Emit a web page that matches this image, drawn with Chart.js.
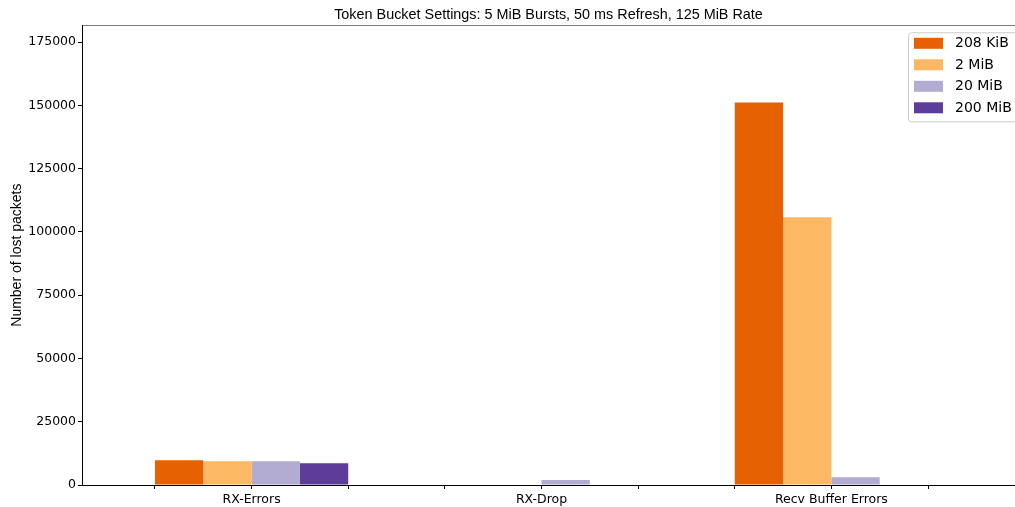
<!DOCTYPE html>
<html>
<head>
<meta charset="utf-8">
<script src="https://cdn.jsdelivr.net/npm/chart.js@4/dist/chart.umd.min.js"></script>
<style>
  html, body { margin: 0; padding: 0; background: #fff; }
  #wrap { width: 1015px; height: 507px; }
</style>
</head>
<body>
<div id="wrap"><canvas id="lossChart"></canvas></div>
<script>
// Data
var categories = ['RX-Errors', 'RX-Drop', 'Recv Buffer Errors'];
var groupX = [1, 4, 7];                 // centre of each group on the x axis
var seriesNames = ['208 KiB', '2 MiB', '20 MiB', '200 MiB'];
var seriesColors = ['#e66101', '#fdb863', '#b2abd2', '#5e3c99'];
var lost208KiB = [9750, 0, 151200];
var lost2MiB = [9350, 0, 105800];
var lost20MiB = [9350, 2000, 3050];
var lost200MiB = [8600, 0, 0];
var yTicks = [0, 25000, 50000, 75000, 100000, 125000, 150000, 175000];

var seriesValues = [lost208KiB, lost2MiB, lost20MiB, lost200MiB];

var datasets = seriesNames.map(function (name, i) {
    return {
        label: name,
        data: groupX.map(function (x, j) { return { x: x, y: seriesValues[i][j] }; }),
        backgroundColor: seriesColors[i],
        borderWidth: 0,
        barPercentage: 1,
        categoryPercentage: 2
    };
});

// matplotlib-like legend box, top right inside the plot
var boxLegend = {
    id: 'boxLegend',
    afterDatasetsDraw: function (chart) {
        var ctx = chart.ctx;
        var area = chart.chartArea;
        var x0 = area.right - 107, y0 = area.top + 7;
        var rowH = 21.5;
        ctx.save();
        ctx.beginPath();
        ctx.roundRect(x0 + 0.5, y0 + 0.5, 120, 89, 3);
        ctx.fillStyle = 'rgba(255,255,255,0.8)';
        ctx.fill();
        ctx.strokeStyle = '#cccccc';
        ctx.lineWidth = 1;
        ctx.stroke();
        ctx.font = '14px "DejaVu Sans"';
        ctx.textBaseline = 'middle';
        chart.data.datasets.forEach(function (ds, i) {
            var cy = y0 + 11 + i * rowH;
            ctx.fillStyle = ds.backgroundColor;
            ctx.fillRect(x0 + 6, cy - 5.5, 29, 11);
            ctx.fillStyle = '#000';
            ctx.fillText(ds.label, x0 + 47, cy + 0.5);
        });
        ctx.restore();
    }
};

Chart.defaults.color = '#000';

var ctx = document.getElementById('lossChart');
new Chart(ctx, {
    type: 'bar',
    data: { datasets: datasets },
    plugins: [boxLegend],
    options: {
        responsive: true,
        maintainAspectRatio: false,
        animation: false,
        layout: { padding: 0 },
        plugins: {
            legend: { display: false },
            tooltip: { enabled: false },
            title: {
                display: true,
                fullSize: false,
                text: 'Token Bucket Settings: 5 MiB Bursts, 50 ms Refresh, 125 MiB Rate',
                color: '#000',
                font: { family: '"Liberation Sans", Arial', size: 14.4, weight: 'normal' },
                padding: { top: 6, bottom: 2 }
            }
        },
        scales: {
            x: {
                type: 'linear',
                offset: false,
                min: -0.755,
                max: 8.9,
                grid: { drawOnChartArea: false, offset: false, color: '#000', tickLength: 4 },
                border: { color: '#000', width: 1 },
                ticks: {
                    stepSize: 1,
                    autoSkip: false,
                    maxRotation: 0,
                    padding: 3,
                    font: { family: '"DejaVu Sans"', size: 12.5 },
                    callback: function (v) {
                        var k = groupX.indexOf(v);
                        return k >= 0 ? categories[k] : '';
                    }
                },
                afterBuildTicks: function (s) {
                    s.ticks = s.ticks.filter(function (t) {
                        return Number.isInteger(t.value) && t.value >= 0 && t.value <= 8;
                    });
                },
                afterFit: function (s) { s.height = 22; }
            },
            xTop: {
                type: 'linear',
                position: 'top',
                offset: false,
                grid: { display: false, drawTicks: false },
                ticks: { display: false },
                border: { color: '#808080', width: 1 },
                afterFit: function (s) { s.height = 0; }
            },
            y: {
                min: 0,
                max: 181700,
                grid: { drawOnChartArea: false, color: '#000', tickLength: 4 },
                border: { color: '#000', width: 1 },
                ticks: {
                    stepSize: 25000,
                    padding: 2,
                    font: { family: '"DejaVu Sans"', size: 12.5 },
                    callback: function (v) { return String(v); }
                },
                afterBuildTicks: function (s) {
                    s.ticks = yTicks.map(function (v) { return { value: v }; });
                },
                title: {
                    display: true,
                    text: 'Number of lost packets',
                    color: '#000',
                    font: { family: '"Liberation Sans", Arial', size: 14 },
                    padding: { top: 9, bottom: 0 }
                },
                afterFit: function (s) { s.width = 82; }
            }
        }
    }
});
</script>
</body>
</html>
